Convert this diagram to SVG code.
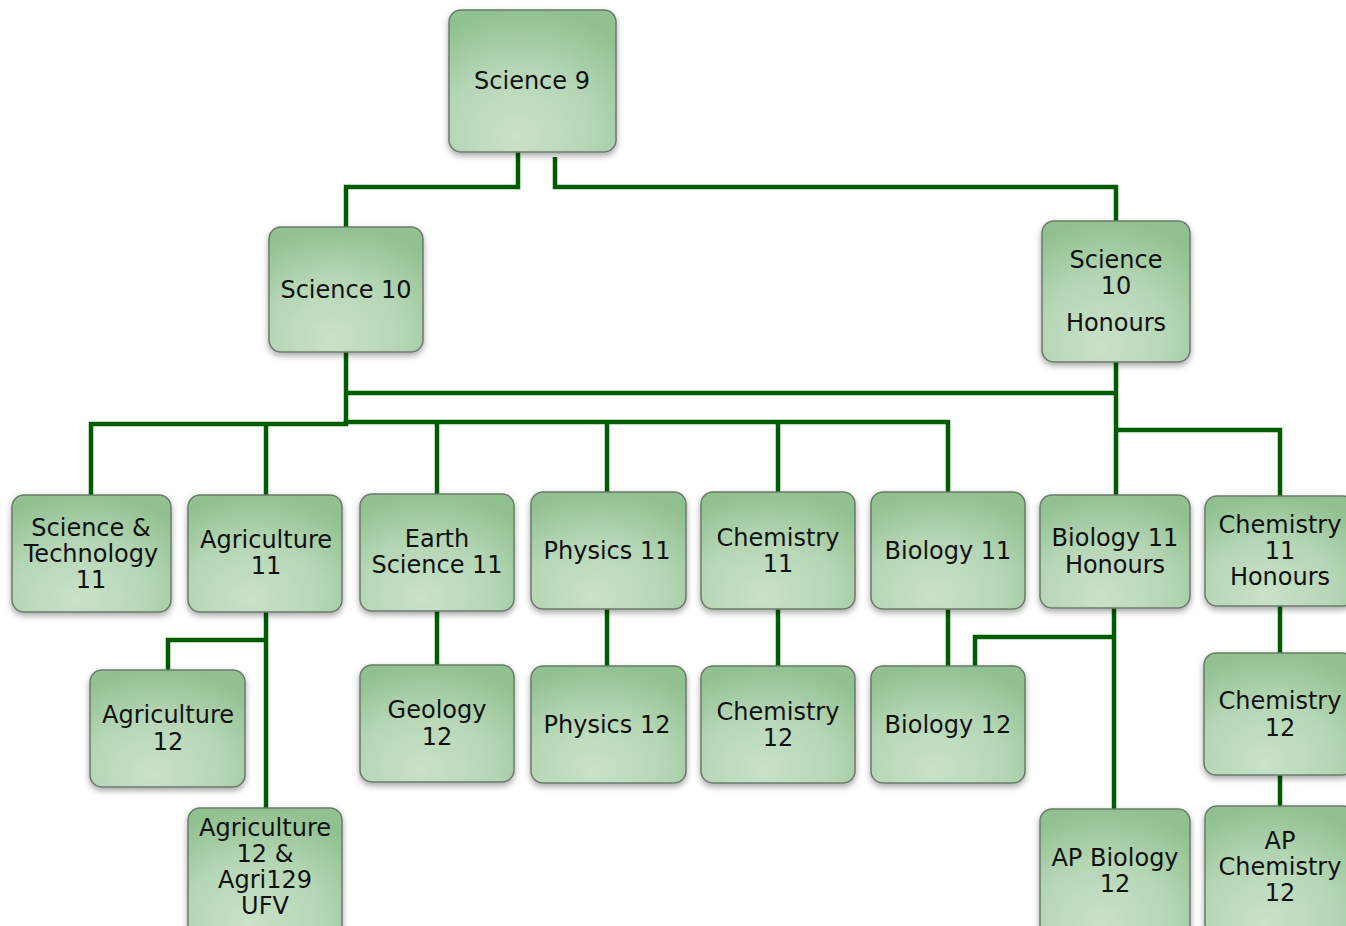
<svg xmlns="http://www.w3.org/2000/svg" width="1346" height="926" viewBox="0 0 1346 926">
<defs>
<radialGradient id="g" cx="0.45" cy="0.8" r="0.8" fx="0.4" fy="0.9">
<stop offset="0" stop-color="#c9e2c9"/>
<stop offset="0.55" stop-color="#b5d6b5"/>
<stop offset="1" stop-color="#91c191"/>
</radialGradient>
<filter id="sh" x="-20%" y="-20%" width="140%" height="150%">
<feDropShadow dx="0" dy="3" stdDeviation="3" flood-color="#000" flood-opacity="0.35"/>
</filter>
</defs>
<style>
.n rect{fill:url(#g);stroke:#6b7a6b;stroke-width:1.5;filter:url(#sh)}
.n text{font-family:"DejaVu Sans",Verdana,sans-serif;font-size:24px;fill:#111;text-anchor:middle}
.c path{fill:none;stroke:#005c00;stroke-width:4.5;stroke-linejoin:miter}
</style>
<rect width="1346" height="926" fill="#fff"/>
<g class="c">
<path d="M518,152 V187 H346 V227"/>
<path d="M555,157 V187 H1116 V221"/>
<path d="M346,352 V423"/>
<path d="M346,393 H1116"/>
<path d="M1116,362 V495"/>
<path d="M91,495 V424 H346 V422 H948 V492"/>
<path d="M266,495 V424"/>
<path d="M437,494 V422"/>
<path d="M607,492 V422"/>
<path d="M778,492 V422"/>
<path d="M1116,430 H1280 V496"/>
<path d="M266,612 V808"/>
<path d="M266,640 H168 V670"/>
<path d="M437,611 V665"/>
<path d="M607,609 V666"/>
<path d="M778,609 V666"/>
<path d="M948,609 V666"/>
<path d="M1114,608 V809"/>
<path d="M1114,637 H975 V666"/>
<path d="M1280,606 V653"/>
<path d="M1280,775 V806"/>
</g>
<g id="science9" class="n"><rect x="449" y="10" width="167" height="142" rx="12"/><text x="532" y="89">Science 9</text></g>
<g id="science10" class="n"><rect x="269" y="227" width="154" height="125" rx="12"/><text x="346" y="298">Science 10</text></g>
<g id="science10h" class="n"><rect x="1042" y="221" width="148" height="141" rx="12"/><text x="1116" y="268">Science</text><text x="1116" y="294">10</text><text x="1116" y="331">Honours</text></g>
<g id="scitech11" class="n"><rect x="12" y="495" width="159" height="117" rx="12"/><text x="91" y="536">Science &amp;</text><text x="91" y="562">Technology</text><text x="91" y="588">11</text></g>
<g id="agri11" class="n"><rect x="188" y="495" width="154" height="117" rx="12"/><text x="266" y="548">Agriculture</text><text x="266" y="574">11</text></g>
<g id="earth11" class="n"><rect x="360" y="494" width="154" height="117" rx="12"/><text x="437" y="547">Earth</text><text x="437" y="573">Science 11</text></g>
<g id="physics11" class="n"><rect x="531" y="492" width="155" height="117" rx="12"/><text x="607" y="559">Physics 11</text></g>
<g id="chem11" class="n"><rect x="701" y="492" width="154" height="117" rx="12"/><text x="778" y="546">Chemistry</text><text x="778" y="572">11</text></g>
<g id="bio11" class="n"><rect x="871" y="492" width="154" height="117" rx="12"/><text x="948" y="559">Biology 11</text></g>
<g id="bio11h" class="n"><rect x="1040" y="495" width="150" height="113" rx="12"/><text x="1115" y="546">Biology 11</text><text x="1115" y="573">Honours</text></g>
<g id="chem11h" class="n"><rect x="1205" y="496" width="150" height="110" rx="12"/><text x="1280" y="533">Chemistry</text><text x="1280" y="559">11</text><text x="1280" y="585">Honours</text></g>
<g id="agri12" class="n"><rect x="90" y="670" width="155" height="117" rx="12"/><text x="168" y="723">Agriculture</text><text x="168" y="750">12</text></g>
<g id="geology12" class="n"><rect x="360" y="665" width="154" height="117" rx="12"/><text x="437" y="718">Geology</text><text x="437" y="745">12</text></g>
<g id="physics12" class="n"><rect x="531" y="666" width="155" height="117" rx="12"/><text x="607" y="733">Physics 12</text></g>
<g id="chem12" class="n"><rect x="701" y="666" width="154" height="117" rx="12"/><text x="778" y="720">Chemistry</text><text x="778" y="746">12</text></g>
<g id="bio12" class="n"><rect x="871" y="666" width="154" height="117" rx="12"/><text x="948" y="733">Biology 12</text></g>
<g id="chem12r" class="n"><rect x="1204" y="653" width="150" height="122" rx="12"/><text x="1280" y="709">Chemistry</text><text x="1280" y="736">12</text></g>
<g id="agri12ufv" class="n"><rect x="188" y="808" width="154" height="130" rx="12"/><text x="265" y="836">Agriculture</text><text x="265" y="862">12 &amp;</text><text x="265" y="888">Agri129</text><text x="265" y="914">UFV</text></g>
<g id="apbio12" class="n"><rect x="1040" y="809" width="150" height="130" rx="12"/><text x="1115" y="866">AP Biology</text><text x="1115" y="892">12</text></g>
<g id="apchem12" class="n"><rect x="1205" y="806" width="150" height="130" rx="12"/><text x="1280" y="849">AP</text><text x="1280" y="875">Chemistry</text><text x="1280" y="901">12</text></g>
</svg>
